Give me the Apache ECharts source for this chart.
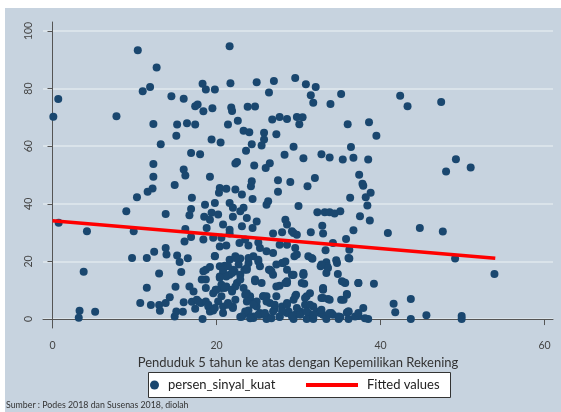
<!DOCTYPE html>
<html>
<head>
<meta charset="utf-8">
<script src="https://cdn.jsdelivr.net/npm/echarts@6/dist/echarts.min.js"></script>
<style>
html, body { margin: 0; padding: 0; background: #fff; }
#chart { width: 561px; height: 412px; }
</style>
</head>
<body>
<div id="chart"></div>
<script>
// Penduduk 5 tahun ke atas dengan kepemilikan rekening (x)
const kepemilikan = [
  10.4, 21.6, 12.7, 0.7, 0.1, 7.8, 11.0, 11.9, 14.5, 16.0, 18.3, 18.7, 19.8, 21.7, 24.9, 27.0, 29.6, 26.4, 17.4, 17.7,
  18.4, 19.5, 21.8, 21.9, 23.8, 24.7, 22.6, 21.4, 26.8, 27.7, 28.6, 29.8, 30.1, 12.3, 15.2, 16.4, 17.4, 15.1, 13.2, 23.3,
  24.0, 25.8, 25.8, 27.3, 19.4, 20.5, 24.3, 25.5, 29.4, 28.3, 23.6, 16.9, 18.0, 12.3, 16.0, 22.3, 22.5, 24.6, 26.5, 26.0,
  30.9, 32.1, 31.5, 31.8, 33.9, 35.2, 42.4, 43.3, 47.4, 30.5, 36.0, 38.6, 39.5, 36.4, 30.6, 32.8, 33.8, 35.4, 36.7, 38.5,
  49.2, 51.0, 48.0,
  16.2, 12.3, 12.2, 11.6, 10.3, 14.9, 19.2, 9.0, 13.8, 0.75, 4.2, 9.9, 16.2, 16.1, 16.9, 17.0, 16.9, 16.7, 9.7, 11.5,
  12.4, 13.8, 13.9, 15.2, 15.5, 16.5, 3.8, 13.0, 15.7, 11.5, 15.0, 10.7, 12.0, 13.0, 13.8, 14.3, 13.1, 14.9, 15.1, 15.9,
  16.0, 3.3, 3.2, 5.2, 18.3, 16.7, 17.2, 17.0, 17.6, 18.1, 17.4, 18.7, 19.0, 19.6, 18.7, 18.7, 18.7, 19.2, 19.8, 19.9,
  20.4, 21.0, 21.6, 22.3, 22.9, 20.8, 21.6, 22.2, 22.9, 23.4, 23.9, 24.5, 25.1, 25.3, 26.4, 26.9, 28.0, 28.6, 29.4, 27.7,
  28.6, 29.7, 20.6, 21.2, 21.9, 22.5, 23.3, 23.7, 24.7, 25.5, 24.1, 24.9, 25.7, 26.5, 27.3, 28.0, 28.6, 29.4, 20.6, 21.4,
  22.0, 20.8, 23.1, 23.7, 24.5, 25.3, 26.1, 26.9, 27.7, 28.8, 29.6, 20.4, 21.2, 22.3, 23.1, 24.2, 24.3, 24.4, 20.3, 27.5,
  29.0, 27.5, 26.3, 26.1, 18.6, 19.8, 21.6, 22.0, 23.3, 22.9, 19.4, 20.2, 18.5, 19.2, 22.0, 23.7, 24.9, 20.8, 23.1, 24.4,
  18.8, 21.6, 28.4, 28.6, 26.9, 28.0, 29.4, 30.0, 28.6, 29.6, 18.4, 19.6, 20.6, 21.6, 20.4, 21.2, 22.8, 23.9, 25.3, 26.1,
  26.9, 27.7, 25.1, 23.5,
  37.4, 37.8, 37.9, 38.8, 38.2, 38.4, 38.7, 37.5, 36.3, 32.0, 31.1, 32.3, 33.2, 33.8, 34.4, 35.1, 32.9, 33.0, 31.5, 29.8,
  29.2, 36.7, 35.8, 34.2, 40.9, 44.8, 47.6, 29.5, 31.2, 31.7, 33.3, 36.2, 36.2, 34.6, 33.4, 32.7, 33.5, 33.4, 34.8, 49.1,
  53.9, 29.3, 30.6, 30.7, 35.6, 37.3, 39.2, 33.0, 35.9, 35.2, 31.0, 32.8, 33.6, 30.8, 31.8, 30.2, 31.2, 32.2, 33.0, 31.0,
  31.8, 34.0, 34.9, 36.1, 36.1, 37.3, 37.9, 38.5, 41.6, 41.8, 43.7, 43.7, 45.6, 49.9, 49.9,
  22.9, 23.9, 24.5, 25.3, 26.1, 27.1, 27.7, 28.6, 29.4, 30.2, 31.0, 31.8, 32.6, 33.4, 34.2, 35.1, 35.9, 18.4, 20.4, 21.2,
  22.0, 22.9, 23.7, 20.6, 21.9, 19.6, 24.1, 24.9, 26.1, 27.3, 28.6, 26.5, 28.1, 29.8, 30.6, 31.4, 33.0, 33.8, 34.7, 35.7,
  19.2, 20.8, 22.0,
  18.2, 17.8, 19.0, 20.4, 20.8, 21.4, 21.9, 22.7, 23.7, 20.0, 21.0, 22.3, 20.2, 21.4, 22.3, 19.8, 23.5, 23.7, 24.5, 23.5,
  23.1, 24.1, 25.1, 25.9, 25.7, 26.1, 27.1, 26.7, 28.0, 28.6, 29.2, 29.8, 29.6, 30.8, 31.4, 31.8, 32.8, 33.0, 33.8, 34.9,
  35.5, 35.9, 36.1, 36.9, 37.3, 38.1, 24.7, 26.7, 27.3, 28.4, 29.2, 30.6, 30.4, 33.0, 35.3, 37.3, 32.8, 33.6, 36.1, 31.6,
  28.4, 25.1, 22.3, 19.8, 23.9
];
// persen_sinyal_kuat (y)
const sinyalKuat = [
  93.3, 94.7, 87.3, 76.4, 70.2, 70.4, 79.1, 80.5, 77.3, 76.5, 81.7, 79.7, 79.7, 81.8, 82.2, 82.6, 83.7, 78.6, 73.9, 74.5,
  72.1, 73.2, 73.4, 72.2, 73.7, 73.8, 68.8, 67.5, 69.3, 70.1, 69.4, 70.1, 67.6, 67.7, 67.5, 68.0, 67.5, 63.6, 60.7, 65.4,
  64.8, 64.7, 62.3, 64.1, 62.3, 61.3, 60.7, 60.2, 59.8, 57.0, 58.4, 57.6, 57.2, 53.8, 51.9, 54.0, 54.5, 53.3, 54.1, 52.4,
  81.5, 80.5, 77.7, 75.1, 74.6, 78.1, 77.5, 73.9, 75.3, 70.0, 67.6, 68.3, 63.6, 59.7, 55.8, 57.2, 56.1, 55.4, 56.0, 55.4,
  55.5, 52.6, 51.2,
  49.8, 49.4, 45.3, 44.2, 42.3, 46.5, 49.4, 37.4, 36.5, 33.4, 30.5, 30.5, 31.3, 26.9, 28.5, 42.1, 38.2, 36.0, 21.2, 21.2,
  23.4, 24.7, 22.4, 22.1, 19.8, 21.1, 16.4, 15.8, 16.3, 10.9, 11.2, 5.6, 4.9, 4.9, 5.6, 7.6, 2.9, 0.9, 2.6, 2.5,
  5.8, 2.9, 0.5, 2.5, 0.0, 11.3, 9.6, 6.0, 6.7, 5.6, 3.6, 6.1, 4.4, 3.0, 13.7, 10.8, 17.1, 18.1, 21.9, 10.2,
  14.8, 18.5, 20.6, 21.8, 21.0, 16.0, 15.4, 16.6, 15.4, 17.1, 19.5, 21.8, 20.6, 18.3, 17.1, 15.4, 19.5, 17.1, 15.4, 11.6,
  12.5, 8.4, 10.8, 11.3, 9.6, 12.5, 10.8, 9.0, 13.1, 12.5, 6.7, 4.4, 7.9, 5.6, 7.9, 4.4, 5.6, 6.7, 7.9, 5.6,
  4.4, 2.1, 0.9, 2.1, 0.9, 2.1, 0.9, 2.6, 0.9, 2.6, 1.5, 45.5, 45.2, 45.0, 43.2, 46.1, 47.8, 41.7, 43.8, 48.2,
  47.6, 44.2, 40.9, 39.7, 39.7, 40.3, 40.3, 38.6, 38.6, 37.4, 36.9, 36.3, 35.5, 34.5, 35.5, 35.1, 33.9, 32.8, 32.2, 31.6,
  31.6, 31.0, 34.5, 32.8, 29.7, 30.1, 29.9, 39.2, 25.8, 24.7, 27.6, 28.2, 28.2, 29.7, 25.2, 25.5, 26.4, 25.5, 24.7, 23.5,
  22.9, 25.8, 26.6, 27.6,
  50.1, 47.0, 46.3, 43.8, 42.3, 39.4, 34.2, 35.7, 42.1, 49.0, 46.1, 37.1, 37.1, 37.1, 36.6, 37.4, 32.4, 29.7, 30.1, 29.3,
  30.5, 30.8, 27.8, 26.4, 29.9, 31.6, 30.4, 21.8, 21.8, 20.9, 23.9, 24.1, 21.0, 20.4, 19.7, 18.3, 18.3, 16.0, 15.6, 21.0,
  15.6, 15.3, 15.4, 12.3, 12.7, 12.5, 12.3, 10.4, 8.7, 6.7, 7.9, 7.3, 7.0, 5.0, 4.4, 2.6, 2.1, 2.6, 1.5, 0.0,
  0.0, 2.1, 0.0, 2.6, 0.0, 1.1, 3.8, 0.0, 5.3, 2.4, 7.0, 0.0, 1.3, 1.1, 0.0,
  0.7, 3.0, 0.35, 1.5, 0.0, 3.5, 0.7, 2.1, 0.0, 1.5, 2.6, 0.7, 2.1, 0.0, 1.5, 0.7, 2.3, 16.6, 18.3, 14.8,
  17.1, 13.7, 17.7, 11.9, 10.2, 9.0, 7.9, 6.1, 7.9, 11.3, 13.1, 17.1, 19.5, 22.4, 16.0, 9.0, 10.2, 6.7, 19.5, 12.5,
  2.6, 4.4, 3.8,
  13.7, 6.1, 5.0, 14.3, 17.1, 18.3, 16.0, 18.9, 17.1, 10.2, 10.8, 11.3, 6.1, 5.0, 6.7, 3.8, 8.4, 6.1, 5.0, 2.6,
  0.9, 0.3, 1.5, 2.1, 7.9, 6.1, 5.0, 0.3, 2.6, 5.0, 0.9, 3.8, 7.9, 7.3, 5.0, 1.5, 3.2, 7.3, 2.1, 0.9,
  6.7, 8.4, 2.6, 0.9, 2.1, 0.3, 13.7, 16.6, 18.9, 12.5, 15.4, 15.4, 12.5, 10.8, 13.1, 12.5, 18.9, 17.7, 21.2, 21.2,
  20.0, 20.0, 21.2, 21.8, 21.2
];
// Fitted values (end points of the red line)
const fittedX = [0, 54];
const fittedY = [34.1, 21.1];

const xTicks = [0, 20, 40, 60];
const yTicks = [0, 20, 40, 60, 80, 100];

const chart = echarts.init(document.getElementById('chart'));

const points = kepemilikan.map((x, i) => [x, sinyalKuat[i]]);
const fitted = fittedX.map((x, i) => [x, fittedY[i]]);

const axisColor = '#555';
const labelColor = '#444';

chart.setOption({
  animation: false,
  textStyle: { fontFamily: 'Lato' },
  graphic: [
    { type: 'rect', silent: true, z: -10, shape: { x: 5, y: 8, width: 556, height: 404 }, style: { fill: '#c7d3df' } },
    { type: 'rect', silent: true, z: -5, shape: { x: 148.5, y: 372.5, width: 302, height: 25 }, style: { fill: '#fff', stroke: '#333', lineWidth: 1 } }
  ],
  title: {
    text: 'Sumber : Podes 2018 dan Susenas 2018, diolah',
    left: 6, top: 401, padding: 0,
    textStyle: { fontSize: 8.8, fontWeight: 'normal', color: '#333', fontFamily: 'Lato' }
  },
  grid: { left: 43, right: 8, top: 22, bottom: 84 },
  xAxis: {
    type: 'value', min: -1.16, max: 61.04,
    name: 'Penduduk 5 tahun ke atas dengan Kepemilikan Rekening',
    nameLocation: 'middle', nameGap: 28,
    nameTextStyle: { fontSize: 13, color: '#333' },
    axisLine: { lineStyle: { color: axisColor } },
    axisTick: { customValues: xTicks, length: 6, lineStyle: { color: axisColor } },
    axisLabel: { customValues: xTicks, margin: 12, fontSize: 10.5, color: labelColor },
    splitLine: { show: false }
  },
  yAxis: {
    type: 'value', min: -3.1, max: 103.1,
    axisLine: { show: true, lineStyle: { color: axisColor } },
    axisTick: { show: true, customValues: yTicks, length: 5, lineStyle: { color: axisColor } },
    axisLabel: { customValues: yTicks, rotate: 90, margin: 9, fontSize: 10.5, color: labelColor },
    splitLine: { show: true, lineStyle: { color: '#e1e8ee', width: 1.5 } }
  },
  legend: [
    {
      data: [{ name: 'persen_sinyal_kuat', icon: 'circle' }],
      left: 150, top: 377, padding: 0,
      itemWidth: 9, itemHeight: 9,
      textStyle: { fontSize: 13, color: '#222', lineHeight: 16, padding: [0, 0, 0, 4] }
    },
    {
      data: [{ name: 'Fitted values', icon: 'rect' }],
      left: 306, top: 377, padding: 0,
      itemWidth: 52, itemHeight: 4,
      textStyle: { fontSize: 13, color: '#222', lineHeight: 16, padding: [0, 0, 0, 4] }
    }
  ],
  series: [
    {
      name: 'persen_sinyal_kuat', type: 'scatter', data: points,
      symbolSize: 8, itemStyle: { color: '#1a476f', opacity: 1 }
    },
    {
      name: 'Fitted values', type: 'line', data: fitted,
      symbol: 'none', lineStyle: { color: '#ff0000', width: 3.5 },
      itemStyle: { color: '#ff0000' }, z: 3
    }
  ]
});
</script>
</body>
</html>
